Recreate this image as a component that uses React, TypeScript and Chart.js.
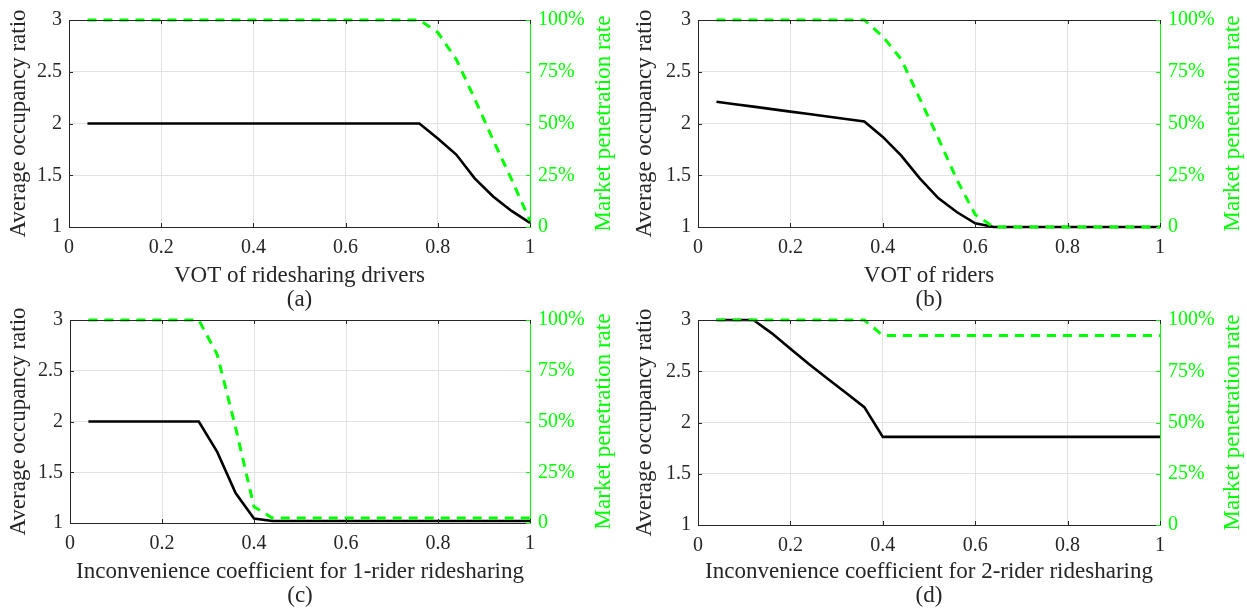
import React, { useEffect, useRef } from 'react';
import { Chart, registerables } from 'chart.js';

Chart.register(...registerables);

// ---------- data ----------
const xValues = [
  0.04, 0.08, 0.12, 0.16, 0.2, 0.24, 0.28, 0.32, 0.36, 0.4, 0.44, 0.48, 0.52,
  0.56, 0.6, 0.64, 0.68, 0.72, 0.76, 0.8, 0.84, 0.88, 0.92, 0.96, 1.0,
];

const occA = [
  2, 2, 2, 2, 2, 2, 2, 2, 2, 2, 2, 2, 2, 2, 2, 2, 2, 2, 2,
  1.855, 1.7, 1.47, 1.295, 1.155, 1.04,
];
const mprA = [
  100, 100, 100, 100, 100, 100, 100, 100, 100, 100, 100, 100, 100, 100, 100, 100, 100, 100, 100,
  94, 81, 62, 42, 23, 3,
];

const occB = [
  2.21, 2.186, 2.163, 2.139, 2.115, 2.092, 2.068, 2.044, 2.02,
  1.87, 1.69, 1.47, 1.28, 1.145, 1.035, 1.0,
  1, 1, 1, 1, 1, 1, 1, 1, 1,
];
const mprB = [
  100, 100, 100, 100, 100, 100, 100, 100, 100,
  92, 81, 62, 43, 23, 6, 0,
  0, 0, 0, 0, 0, 0, 0, 0, 0,
];

const occC = [
  2, 2, 2, 2, 2, 2, 2,
  1.7, 1.295, 1.045, 1.02,
  1.02, 1.02, 1.02, 1.02, 1.02, 1.02, 1.02, 1.02, 1.02, 1.02, 1.02, 1.02, 1.02, 1.02,
];
const mprC = [
  100, 100, 100, 100, 100, 100, 100,
  83, 47, 8, 2.5,
  2.5, 2.5, 2.5, 2.5, 2.5, 2.5, 2.5, 2.5, 2.5, 2.5, 2.5, 2.5, 2.5, 2.5,
];

const occD = [
  3, 3, 3, 2.87, 2.72, 2.57, 2.43, 2.29, 2.15, 1.86,
  1.86, 1.86, 1.86, 1.86, 1.86, 1.86, 1.86, 1.86, 1.86, 1.86, 1.86, 1.86, 1.86, 1.86, 1.86,
];
const mprD = [
  100, 100, 100, 100, 100, 100, 100, 100, 100, 92.5,
  92.5, 92.5, 92.5, 92.5, 92.5, 92.5, 92.5, 92.5, 92.5, 92.5, 92.5, 92.5, 92.5, 92.5, 92.5,
];

const xTitles = [
  'VOT of ridesharing drivers',
  'VOT of riders',
  'Inconvenience coefficient for 1-rider ridesharing',
  'Inconvenience coefficient for 2-rider ridesharing',
];
const panelLabels = ['(a)', '(b)', '(c)', '(d)'];
const leftTitle = 'Average occupancy ratio';
const rightTitle = 'Market penetration rate';
const leftTicks = [1, 1.5, 2, 2.5, 3];
const rightTicks = [0, 25, 50, 75, 100];

// ---------- styles ----------
const FONT = "'Liberation Serif', 'Times New Roman', serif";
const DARK = '#262626';
const GREEN = '#00ff00';
const GRID = '#e2e2e2';

Chart.defaults.font.family = FONT;
Chart.defaults.font.size = 20;
Chart.defaults.color = DARK;

type Plot = { l: number; r: number; t: number; b: number };
type Spec = {
  left: number;
  top: number;
  width: number;
  height: number;
  plot: Plot;
  yTitlePad: number;
  rightTitleX: number;
  occ: number[];
  mpr: number[];
  xTitle: string;
  label: string;
};

const specs: Spec[] = [
  { left: 0, top: 0, width: 623, height: 312, plot: { l: 69, r: 530, t: 20, b: 227 }, yTitlePad: 7, rightTitleX: 604, occ: occA, mpr: mprA, xTitle: xTitles[0], label: panelLabels[0] },
  { left: 623, top: 0, width: 624, height: 312, plot: { l: 75, r: 537, t: 20, b: 227 }, yTitlePad: 10, rightTitleX: 610, occ: occB, mpr: mprB, xTitle: xTitles[1], label: panelLabels[1] },
  { left: 0, top: 300, width: 623, height: 308, plot: { l: 70, r: 530, t: 17, b: 223 }, yTitlePad: 7, rightTitleX: 604, occ: occC, mpr: mprC, xTitle: xTitles[2], label: panelLabels[2] },
  { left: 623, top: 300, width: 624, height: 308, plot: { l: 75, r: 537, t: 18, b: 225 }, yTitlePad: 10, rightTitleX: 610, occ: occD, mpr: mprD, xTitle: xTitles[3], label: panelLabels[3] },
];

const fmt = (v: any) => String(Math.round(Number(v) * 10) / 10);

const framePlugin = {
  id: 'frame',
  afterDraw(chart: any, _args: any, opts: any) {
    const { ctx, chartArea: a, scales } = chart;
    const TL = 4;
    ctx.save();
    ctx.lineWidth = 1;
    ctx.strokeStyle = DARK;
    ctx.beginPath();
    ctx.moveTo(a.left, Math.round(a.top) + 0.5);
    ctx.lineTo(a.right, Math.round(a.top) + 0.5);
    ctx.stroke();
    ctx.beginPath();
    scales.x.ticks.forEach((t: any) => {
      const px = Math.round(scales.x.getPixelForValue(t.value)) + 0.5;
      ctx.moveTo(px, a.bottom);
      ctx.lineTo(px, a.bottom - TL);
      ctx.moveTo(px, a.top);
      ctx.lineTo(px, a.top + TL);
    });
    scales.y.ticks.forEach((t: any) => {
      const py = Math.round(scales.y.getPixelForValue(t.value)) + 0.5;
      ctx.moveTo(a.left, py);
      ctx.lineTo(a.left + TL, py);
    });
    ctx.stroke();
    ctx.strokeStyle = GREEN;
    ctx.beginPath();
    scales.y1.ticks.forEach((t: any) => {
      const py = Math.round(scales.y1.getPixelForValue(t.value)) + 0.5;
      ctx.moveTo(a.right, py);
      ctx.lineTo(a.right - TL, py);
    });
    ctx.stroke();
    ctx.translate(opts.rightTitleX, (a.top + a.bottom) / 2);
    ctx.rotate(-Math.PI / 2);
    ctx.fillStyle = GREEN;
    ctx.font = `normal normal 23px ${FONT}`;
    ctx.textAlign = 'center';
    ctx.textBaseline = 'middle';
    ctx.fillText(opts.text, 0, 0);
    ctx.restore();
  },
};

function Panel({ spec }: { spec: Spec }) {
  const ref = useRef<HTMLCanvasElement | null>(null);
  useEffect(() => {
    if (!ref.current) return;
    const { width: W, height: H, plot } = spec;
    const tickFont = { family: FONT, size: 20, weight: 'normal' };
    const titleFont = { family: FONT, size: 23, weight: 'normal', lineHeight: '24px' };
    const chart = new Chart(ref.current, {
      type: 'line',
      data: {
        datasets: [
          {
            label: rightTitle,
            data: xValues.map((x, i) => ({ x, y: spec.mpr[i] })),
            yAxisID: 'y1',
            borderColor: GREEN,
            borderWidth: 3,
            borderDash: [9, 7],
            pointRadius: 0,
            tension: 0,
            fill: false,
            clip: 6,
            order: 0,
          },
          {
            label: leftTitle,
            data: xValues.map((x, i) => ({ x, y: spec.occ[i] })),
            yAxisID: 'y',
            borderColor: '#000000',
            borderWidth: 2.6,
            pointRadius: 0,
            tension: 0,
            fill: false,
            clip: 6,
            order: 1,
          },
        ],
      },
      options: {
        responsive: false,
        animation: false,
        events: [],
        layout: { padding: { left: 0, right: 0, top: plot.t, bottom: 0 } },
        plugins: {
          legend: { display: false },
          tooltip: { enabled: false },
          frame: { rightTitleX: spec.rightTitleX, text: rightTitle },
        } as any,
        scales: {
          x: {
            type: 'linear',
            min: 0,
            max: 1,
            ticks: {
              stepSize: 0.2,
              color: DARK,
              font: tickFont,
              padding: 9,
              maxRotation: 0,
              autoSkip: false,
              callback: fmt,
            },
            grid: { color: GRID, drawTicks: false, lineWidth: 1 },
            border: { color: DARK, width: 1 },
            title: {
              display: true,
              text: [spec.xTitle, spec.label],
              color: DARK,
              font: titleFont,
              padding: { top: 0, bottom: 0 },
            },
            afterFit: (s: any) => {
              s.height = H - plot.b;
            },
          },
          y: {
            type: 'linear',
            position: 'left',
            min: leftTicks[0],
            max: leftTicks[leftTicks.length - 1],
            ticks: {
              stepSize: 0.5,
              color: DARK,
              font: tickFont,
              padding: 7,
              callback: fmt,
            },
            grid: { color: GRID, drawTicks: false, lineWidth: 1 },
            border: { color: DARK, width: 1 },
            title: {
              display: true,
              text: leftTitle,
              color: DARK,
              font: titleFont,
              padding: { top: spec.yTitlePad, bottom: 0 },
            },
            afterFit: (s: any) => {
              s.width = plot.l;
            },
          },
          y1: {
            type: 'linear',
            position: 'right',
            min: rightTicks[0],
            max: rightTicks[rightTicks.length - 1],
            ticks: {
              stepSize: 25,
              color: GREEN,
              font: tickFont,
              padding: 8,
              callback: (v: any) => (Number(v) === 0 ? '0' : `${v}%`),
            },
            grid: { display: false, drawTicks: false },
            border: { color: GREEN, width: 1 },
            afterFit: (s: any) => {
              s.width = W - plot.r;
            },
          },
        },
      } as any,
      plugins: [framePlugin as any],
    });
    return () => chart.destroy();
  }, [spec]);

  return (
    <canvas
      ref={ref}
      width={spec.width}
      height={spec.height}
      style={{
        position: 'absolute',
        left: spec.left,
        top: spec.top,
        width: spec.width,
        height: spec.height,
      }}
    />
  );
}

export default function App() {
  return (
    <div style={{ position: 'absolute', left: 0, top: 0, width: 1247, height: 612, background: '#ffffff' }}>
      {specs.map((s, i) => (
        <Panel key={i} spec={s} />
      ))}
    </div>
  );
}
